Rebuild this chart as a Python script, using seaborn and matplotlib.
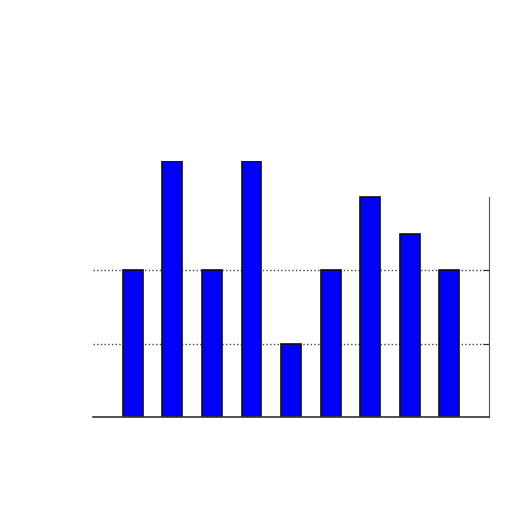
import matplotlib
matplotlib.use('Agg')
import matplotlib.pyplot as plt
import seaborn as sns
import pandas as pd

sns.set_style('white')

categories = ['1', '2', '3', '4', '5', '6', '7', '8', '9']
values = [2, 3.5, 2, 3.5, 1, 2, 3, 2.5, 2]
grid_levels = [1, 2]

data = pd.DataFrame({'cat': categories, 'val': values})

fig = plt.figure(figsize=[5.12, 5.12], dpi=100)
ax = fig.add_axes([0.182, 0.186, 0.773, 0.5])
sns.barplot(data=data, x='cat', y='val', color='#0000ff', saturation=1,
            width=0.5, edgecolor='#111111', linewidth=1.2, ax=ax, zorder=2)

ax.set_xlim(-1, 9)
ax.set_ylim(0, 3.5)
ax.set_yticks(grid_levels)
ax.yaxis.grid(True, linestyle=':', color='#444444', linewidth=1.0, zorder=0)
ax.set_axisbelow(True)
ax.tick_params(axis='both', direction='in', length=4, labelleft=False,
               labelbottom=False, right=True, left=False, bottom=False)
ax.set_xlabel('')
ax.set_ylabel('')
ax.spines['top'].set_visible(False)
ax.spines['left'].set_visible(False)
ax.spines['right'].set_color('#555555')
ax.spines['right'].set_bounds(0, 3)
ax.spines['bottom'].set_color('#333333')
ax.spines['bottom'].set_linewidth(1.2)

plt.savefig('out.png', dpi=100)
